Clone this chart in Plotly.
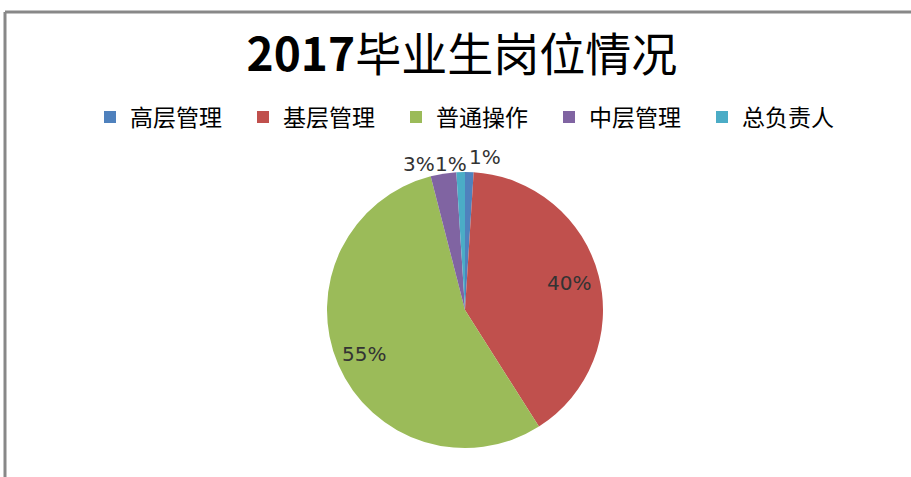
import math
import plotly.graph_objects as go

categories = ["高层管理", "基层管理", "普通操作", "中层管理", "总负责人"]
values = [1, 40, 55, 3, 1]
colors = ["#4F81BD", "#C0504D", "#9BBB59", "#8064A2", "#4BACC6"]
title_year = "2017"
title_rest = "毕业生岗位情况"

W, H = 911, 477
cx, cy, r = 465, 310, 138

# label placement (style): radial factor and horizontal nudge in px
label_k = [1.11, 0.78, 0.80, 1.07, 1.06]
label_dx = [15, 0, 0, -23, -9]

fig = go.Figure(go.Pie(
    labels=categories,
    values=values,
    sort=False,
    direction="clockwise",
    rotation=0,
    marker=dict(colors=colors, line=dict(width=0)),
    textinfo="none",
    domain=dict(x=[(cx - r) / W, (cx + r) / W], y=[1 - (cy + r) / H, 1 - (cy - r) / H]),
    hoverinfo="label+percent",
))

total = sum(values)
annotations = []
cum = 0
for i, v in enumerate(values):
    theta = (cum + v / 2) / total * 2 * math.pi
    cum += v
    px = cx + label_k[i] * r * math.sin(theta) + label_dx[i]
    py = cy - label_k[i] * r * math.cos(theta)
    annotations.append(dict(
        text=f"{v}%", x=px / W, y=1 - py / H, xref="paper", yref="paper",
        xanchor="center", yanchor="middle", showarrow=False,
        font=dict(family="DejaVu Sans", size=20, color="#333333"),
    ))

fig.update_layout(
    width=W, height=H,
    margin=dict(l=0, r=0, t=0, b=0),
    paper_bgcolor="white",
    title=dict(text="<b>" + title_year + "</b>" + title_rest, x=0.507, xanchor="center",
               y=1 - 55 / H, yanchor="middle",
               font=dict(family="Noto Sans CJK SC", size=46, color="black")),
    showlegend=True,
    legend=dict(orientation="h", x=0.5 + 17 / W, xanchor="center", y=1 - 117 / H, yanchor="middle",
                font=dict(family="Noto Sans CJK SC", size=23, color="black"),
                entrywidth=108, entrywidthmode="pixels", traceorder="normal"),
    annotations=annotations,
    shapes=[
        dict(type="line", xref="paper", yref="paper", x0=5 / W, x1=1, y0=1 - 12 / H, y1=1 - 12 / H,
             line=dict(color="#888888", width=3)),
        dict(type="line", xref="paper", yref="paper", x0=5 / W, x1=5 / W, y0=0, y1=1 - 12 / H,
             line=dict(color="#888888", width=3)),
    ],
)

fig.write_html("out.html", config={"displayModeBar": False},
               post_script="document.body.style.margin='0';")
